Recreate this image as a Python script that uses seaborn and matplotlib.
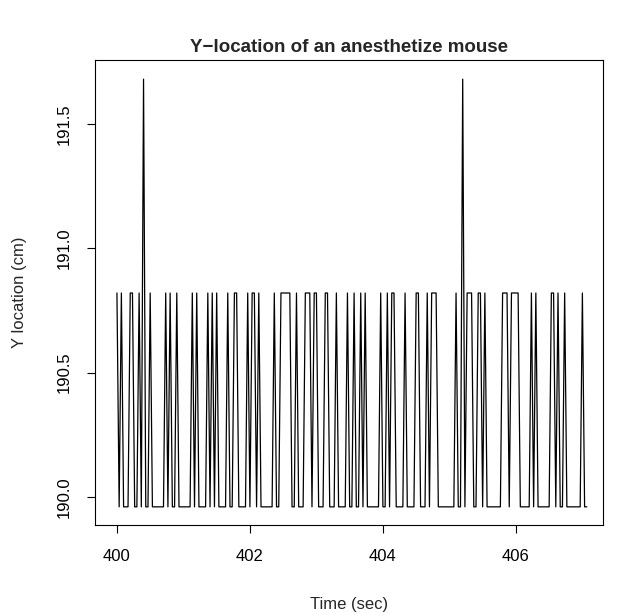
import numpy as np
import pandas as pd
import matplotlib
matplotlib.use("Agg")
import matplotlib.pyplot as plt
import seaborn as sns

# ---- data ----
start_time = 400.0      # seconds
frame_rate = 30.0       # samples per second
LO, HI, SP = 189.96, 190.82, 191.68   # the three observed Y levels (cm)

y_location = [
    HI, LO, HI, LO, LO, LO, HI, HI, LO, LO,
    HI, LO, SP, LO, LO, HI, LO, LO, LO, LO,
    LO, LO, HI, LO, HI, LO, LO, HI, LO, LO,
    LO, LO, LO, LO, HI, LO, HI, LO, LO, LO,
    LO, HI, LO, HI, LO, HI, LO, LO, LO, LO,
    HI, LO, LO, HI, HI, LO, LO, LO, LO, HI,
    LO, HI, HI, LO, HI, LO, LO, LO, LO, LO,
    LO, HI, LO, LO, HI, HI, HI, HI, HI, LO,
    LO, HI, LO, LO, LO, HI, HI, HI, LO, HI,
    HI, LO, LO, LO, HI, HI, LO, LO, LO, HI,
    LO, LO, LO, LO, HI, LO, LO, HI, LO, LO,
    HI, LO, HI, LO, LO, LO, LO, LO, LO, HI,
    LO, LO, HI, LO, HI, HI, LO, LO, LO, LO,
    HI, LO, LO, LO, LO, HI, HI, LO, LO, LO,
    HI, LO, HI, HI, HI, LO, LO, LO, LO, LO,
    LO, LO, LO, HI, LO, LO, SP, LO, HI, HI,
    HI, LO, LO, HI, HI, LO, HI, LO, LO, LO,
    LO, LO, LO, LO, HI, HI, HI, LO, HI, HI,
    HI, HI, LO, LO, LO, LO, LO, HI, LO, HI,
    LO, LO, LO, LO, LO, LO, HI, HI, LO, HI,
    LO, LO, HI, LO, LO, LO, LO, LO, LO, LO,
    HI, LO, LO,
]
time_sec = start_time + np.arange(len(y_location)) / frame_rate

x_ticks = [400, 402, 404, 406]
y_ticks = [190.0, 190.5, 191.0, 191.5]
y_tick_labels = ["190.0", "190.5", "191.0", "191.5"]

title = "Y\u2212location of an anesthetize mouse"
x_label = "Time (sec)"
y_label = "Y location (cm)"

df = pd.DataFrame({"time": time_sec, "y": y_location})

# ---- drawing ----
sns.set_style("ticks")
plt.rcParams["font.family"] = ["Liberation Sans", "DejaVu Sans"]

W, H = 618, 613
fig = plt.figure(figsize=(W / 100, H / 100), dpi=100)
ax = fig.add_axes([95 / W, 1 - 525 / H, (603 - 95) / W, (525 - 60) / H])

sns.lineplot(data=df, x="time", y="y", color="black", linewidth=0.9,
             estimator=None, ax=ax)

ax.set_xlim(399.67, 407.31)
ax.set_ylim(189.887, 191.757)
ax.set_xticks(x_ticks)
ax.set_xticklabels([str(v) for v in x_ticks])
ax.set_yticks(y_ticks)
ax.set_yticklabels(y_tick_labels, rotation=90, va="center")
ax.set_xlabel("")
ax.set_ylabel("")
ax.tick_params(direction="out", length=6, width=0.8, labelsize=12,
               colors="black")
ax.tick_params(axis="x", pad=11)
ax.tick_params(axis="y", pad=11)
for s in ax.spines.values():
    s.set_visible(True)
    s.set_color("black")
    s.set_linewidth(0.8)

fig.text(349 / W, 1 - 47 / H, title, ha="center", va="center",
         fontsize=13.5, fontweight="bold")
fig.text(349 / W, 1 - 604 / H, x_label, ha="center", va="center", fontsize=12)
fig.text(20 / W, 1 - 292 / H, y_label, ha="center", va="center",
         fontsize=12, rotation=90)

fig.savefig("out.png", dpi=100, facecolor="white")
